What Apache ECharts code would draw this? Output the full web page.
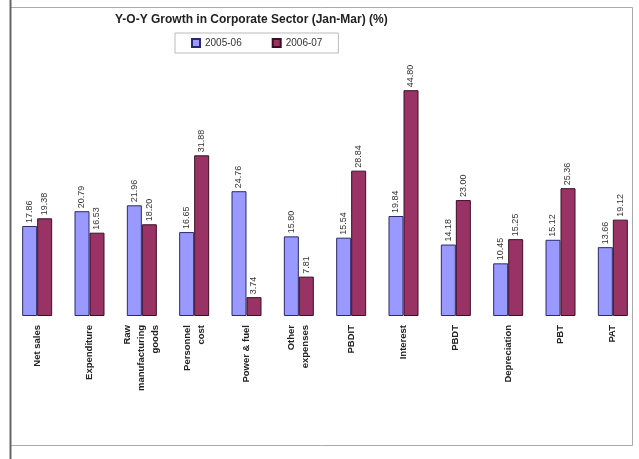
<!DOCTYPE html>
<html>
<head>
<meta charset="utf-8">
<script src="https://cdn.jsdelivr.net/npm/echarts@6/dist/echarts.min.js"></script>
<style>
  html, body { margin: 0; padding: 0; background: #fff; }
  #chart { width: 639px; height: 459px; }
</style>
</head>
<body>
<div id="chart"></div>
<script>
// Year-on-year growth of corporate aggregates, January-March quarter (%)
const categories = [
  'Net sales', 'Expenditure', 'Raw\nmanufacturing\ngoods', 'Personnel\ncost',
  'Power & fuel', 'Other\nexpenses', 'PBDIT', 'Interest', 'PBDT',
  'Depreciation', 'PBT', 'PAT'
];
const growth2005_06 = [17.86, 20.79, 21.96, 16.65, 24.76, 15.80, 15.54, 19.84, 14.18, 10.45, 15.12, 13.66];
const growth2006_07 = [19.38, 16.53, 18.20, 31.88, 3.74, 7.81, 28.84, 44.80, 23.00, 15.25, 25.36, 19.12];
const seriesNames = ['2005-06', '2006-07'];

const FONT = 'Liberation Sans, Arial, sans-serif';
const chart = echarts.init(document.getElementById('chart'), null, { renderer: 'canvas' });

const valueLabel = {
  show: true,
  position: 'top',
  rotate: 90,
  align: 'left',
  verticalAlign: 'middle',
  distance: 3,
  fontSize: 9,
  fontFamily: FONT,
  color: '#333',
  formatter: p => p.value.toFixed(2)
};

chart.setOption({
  animation: false,
  backgroundColor: '#fff',
  title: {
    text: 'Y-O-Y Growth in Corporate Sector (Jan-Mar) (%)',
    left: 110,
    top: 9,
    textStyle: {
      fontFamily: FONT,
      fontSize: 12,
      fontWeight: 'bold',
      color: '#222'
    }
  },
  legend: {
    data: seriesNames,
    top: 33,
    left: 175,
    itemWidth: 8,
    itemHeight: 8,
    itemGap: 30,
    icon: 'rect',
    padding: [5, 16],
    borderColor: '#bbb',
    borderWidth: 1,
    textStyle: {
      fontFamily: FONT,
      fontSize: 10,
      color: '#333'
    }
  },
  grid: { left: 11, right: 0, top: 64, bottom: 143, containLabel: false },
  xAxis: {
    type: 'category',
    data: categories,
    axisLine: { show: false },
    axisTick: { show: false },
    axisLabel: {
      rotate: 90,
      interval: 0,
      margin: 9,
      fontSize: 9.5,
      lineHeight: 14,
      fontWeight: 'bold',
      fontFamily: FONT,
      color: '#222'
    }
  },
  yAxis: {
    type: 'value',
    min: 0,
    max: 50,
    show: false,
    splitLine: { show: false }
  },
  series: [
    {
      name: seriesNames[0],
      type: 'bar',
      data: growth2005_06,
      barWidth: 15,
      barGap: '0%',
      itemStyle: { color: '#9999ff', borderColor: '#2a2a6a', borderWidth: 1 },
      label: valueLabel
    },
    {
      name: seriesNames[1],
      type: 'bar',
      data: growth2006_07,
      barWidth: 15,
      itemStyle: { color: '#993366', borderColor: '#3a1020', borderWidth: 1 },
      label: valueLabel
    }
  ],
  graphic: [
    {
      type: 'rect',
      shape: { x: 10.5, y: 7.5, width: 622, height: 438 },
      style: { fill: 'none', stroke: '#aaa', lineWidth: 1 },
      silent: true
    },
    {
      type: 'line',
      shape: { x1: 10.5, y1: 0, x2: 10.5, y2: 459 },
      style: { stroke: '#666', lineWidth: 2 },
      silent: true
    }
  ]
});
</script>
</body>
</html>
